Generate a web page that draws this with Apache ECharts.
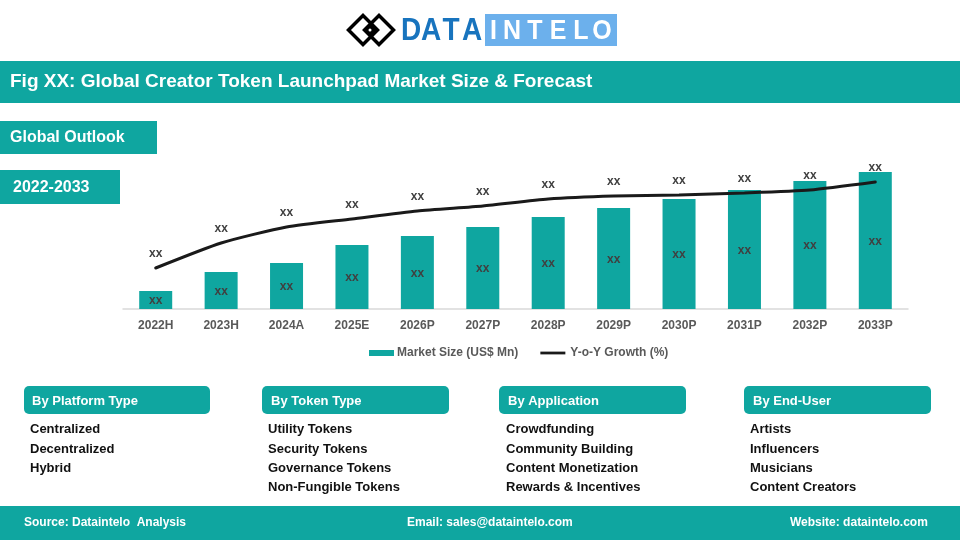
<!DOCTYPE html>
<html>
<head>
    <meta charset="utf-8">
    <title>Global Creator Token Launchpad Market</title>
    <script src="https://cdn.jsdelivr.net/npm/echarts@6/dist/echarts.min.js"></script>
    <style>
        html, body { margin: 0; padding: 0; background: #fff; }
    </style>
</head>
<body>
<div id="main" style="width: 960px;height:540px;"></div>
<script type="text/javascript">
var categories = ['2022H', '2023H', '2024A', '2025E', '2026P', '2027P', '2028P', '2029P', '2030P', '2031P', '2032P', '2033P'];
var marketSize = [18, 37, 46, 64, 73, 82, 92, 101, 110, 119, 128, 137];
var yoyGrowth = [41, 66, 82, 90, 98, 103, 110, 113, 114, 116, 119, 127];
var platformType = ['Centralized', 'Decentralized', 'Hybrid'];
var tokenType = ['Utility Tokens', 'Security Tokens', 'Governance Tokens', 'Non-Fungible Tokens'];
var application = ['Crowdfunding', 'Community Building', 'Content Monetization', 'Rewards & Incentives'];
var endUser = ['Artists', 'Influencers', 'Musicians', 'Content Creators'];

var TEAL = '#0FA6A0';
var FONT = '"Liberation Sans", Arial, sans-serif';

function label(x, y, text, size, color, align, scaleY) {
    return {
        type: 'text', x: x, y: y + 1, z: 10, scaleY: scaleY || 1,
        style: {
            text: text, fill: color, font: 'bold ' + size + 'px ' + FONT,
            textAlign: align || 'left', textVerticalAlign: 'middle'
        }
    };
}

function box(x, y, w, h, r, color) {
    return {type: 'rect', z: 5, shape: {x: x, y: y, width: w, height: h, r: r || 0}, style: {fill: color || TEAL}};
}

function diamond(cx, cy, r, fill, stroke, lw) {
    return {
        type: 'polygon', z: 6,
        shape: {points: [[cx - r, cy], [cx, cy - r], [cx + r, cy], [cx, cy + r]]},
        style: {fill: fill, stroke: stroke, lineWidth: lw}
    };
}

function buildGraphics() {
    var g = [];
    // logo
    g.push(diamond(363, 30, 14.5, 'none', '#000', 3.5), diamond(379, 30, 14.5, 'none', '#000', 3.5));
    g.push(diamond(371, 30, 5, '#000', '#000', 1));
    g.push({type: 'circle', z: 7, shape: {cx: 370, cy: 30, r: 1.5}, style: {fill: '#fff'}});
    g.push(box(485, 14, 132, 32, 0, '#6CB0EC'));
    var dataLetters = ['D', 'A', 'T', 'A'];
    var dataX = [411, 431, 451, 472];
    dataLetters.forEach(function (c, i) { g.push(label(dataX[i], 30, c, 28, '#1874BE', 'center', 1.12)); });
    var intLetters = ['I', 'N', 'T', 'E', 'L', 'O'];
    var intX = [493.5, 512, 535, 558, 581, 602];
    intLetters.forEach(function (c, i) { g.push(label(intX[i], 30, c, 25, '#fff', 'center', 1.12)); });

    // header bands
    g.push(box(0, 61, 960, 42));
    g.push(label(10, 81, 'Fig XX: Global Creator Token Launchpad Market Size & Forecast', 19, '#fff'));
    g.push(box(0, 121, 157, 33));
    g.push(label(10, 137, 'Global Outlook', 16, '#fff'));
    g.push(box(0, 170, 120, 34));
    g.push(label(13, 187, '2022-2033', 16, '#fff'));

    // segment panels
    var panels = [
        {title: 'By Platform Type', items: platformType, x: 24, w: 186, tx: 32, ix: 30},
        {title: 'By Token Type', items: tokenType, x: 262, w: 187, tx: 271, ix: 268},
        {title: 'By Application', items: application, x: 499, w: 187, tx: 508, ix: 506},
        {title: 'By End-User', items: endUser, x: 744, w: 187, tx: 753, ix: 750}
    ];
    var rowY = [428, 448, 467, 486];
    panels.forEach(function (p) {
        g.push(box(p.x, 386, p.w, 28, 5));
        g.push(label(p.tx, 400, p.title, 13, '#fff'));
        p.items.forEach(function (t, i) { g.push(label(p.ix, rowY[i], t, 13, '#111', 'left')); });
    });

    // footer
    g.push(box(0, 506, 960, 34));
    g.push(label(24, 522, 'Source: Dataintelo  Analysis', 12, '#fff'));
    g.push(label(407, 522, 'Email: sales@dataintelo.com', 12, '#fff'));
    g.push(label(790, 522, 'Website: dataintelo.com', 12, '#fff'));
    return g;
}

var myChart = echarts.init(document.getElementById('main'));
var option = {
    animation: false,
    backgroundColor: '#fff',
    textStyle: {fontFamily: FONT},
    graphic: buildGraphics(),
    grid: {left: 123, width: 785, top: 159, height: 150},
    legend: {
        top: 342, left: 364, itemGap: 22, itemWidth: 25, itemHeight: 6,
        textStyle: {color: '#595959', fontSize: 12, fontWeight: 'bold', fontFamily: FONT, padding: [0, 0, 0, -2]},
        data: [
            {name: 'Market Size (US$ Mn)', icon: 'rect'},
            {name: 'Y-o-Y Growth (%)', icon: 'path://M0,0H27V3H0Z', textStyle: {padding: [0, 0, 0, 0]}}
        ]
    },
    xAxis: {
        type: 'category',
        data: categories,
        axisLine: {lineStyle: {color: '#D9D9D9', width: 1.5}},
        axisTick: {show: false},
        axisLabel: {color: '#595959', fontSize: 12, fontWeight: 'bold', margin: 11}
    },
    yAxis: [
        {type: 'value', min: 0, max: 150, show: false},
        {type: 'value', min: 0, max: 150, show: false}
    ],
    series: [
        {
            name: 'Market Size (US$ Mn)',
            type: 'bar',
            data: marketSize,
            barWidth: 33,
            itemStyle: {color: TEAL},
            label: {show: true, position: 'inside', offset: [0, 1], formatter: 'xx', color: '#404040', fontSize: 12, fontWeight: 'bold'}
        },
        {
            name: 'Y-o-Y Growth (%)',
            type: 'line',
            yAxisIndex: 1,
            data: yoyGrowth,
            smooth: 0.2,
            symbol: 'circle',
            symbolSize: 1,
            lineStyle: {color: '#1A1A1A', width: 3, cap: 'round'},
            itemStyle: {color: '#1A1A1A'},
            label: {show: true, position: 'top', distance: 8, formatter: 'xx', color: '#404040', fontSize: 12, fontWeight: 'bold'}
        }
    ]
};
myChart.setOption(option);
</script>
</body>
</html>
